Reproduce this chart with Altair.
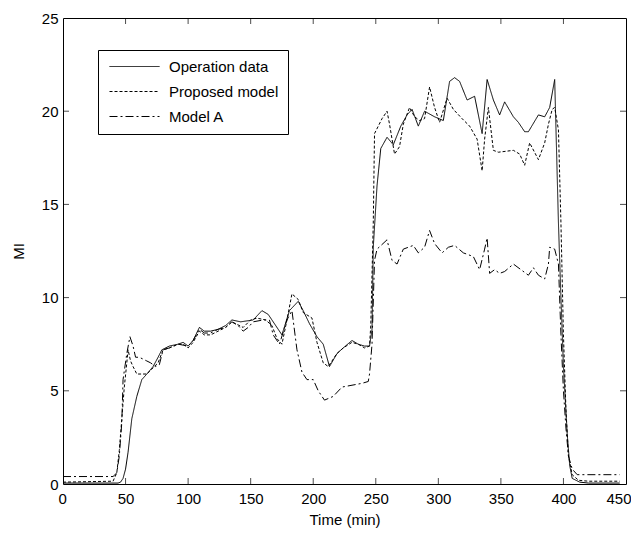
import altair as alt
import pandas as pd

series_names = ["Operation data", "Proposed model", "Model A"]

op_t = [0, 44, 46, 48, 50, 52, 55, 59, 63, 67, 72, 76, 79, 85, 92, 96, 100, 104, 109, 113, 118, 124,
        130, 135, 142, 152, 159, 164, 169, 175, 181, 188, 192, 197, 203, 208, 213, 219, 224, 231, 236,
        241, 245, 247, 248, 251, 254, 259, 264, 270, 275, 279, 284, 289, 297, 304, 309, 313, 317, 323,
        329, 335, 339, 344, 349, 353, 360, 364, 369, 372, 380, 385, 389, 393, 396, 398, 400, 403, 405,
        407, 413, 420, 445]
op_v = [0.05, 0.05, 0.1, 0.3, 0.8, 1.7, 3.5, 4.7, 5.6, 5.9, 6.3, 6.8, 7.2, 7.4, 7.5, 7.6, 7.4, 7.7,
        8.4, 8.2, 8.2, 8.3, 8.5, 8.8, 8.7, 8.8, 9.3, 9.1, 8.6, 8.0, 9.3, 9.8, 9.3, 8.6, 7.9, 7.5, 6.3,
        7.0, 7.3, 7.7, 7.5, 7.4, 7.4, 8.3, 12.7, 16.0, 18.0, 18.6, 18.2, 19.2, 19.8, 20.1, 19.2, 20.0,
        19.7, 19.5, 21.6, 21.8, 21.6, 20.6, 20.8, 18.8, 21.7, 20.6, 19.8, 20.5, 19.7, 19.4, 18.9, 18.9,
        19.8, 19.7, 20.2, 21.7, 14.0, 10.0, 6.3, 2.7, 1.0, 0.3, 0.1, 0.05, 0.05]

pm_t = [0, 40, 43, 45, 47, 49, 51, 52, 54, 56, 59, 63, 67, 70, 73, 76, 80, 85, 92, 96, 100, 104, 109,
        113, 118, 124, 130, 135, 144, 150, 155, 162, 167, 171, 175, 179, 183, 188, 192, 199, 203, 208,
        212, 219, 224, 231, 236, 241, 245, 246, 248, 249, 255, 259, 261, 265, 269, 272, 277, 281, 285,
        289, 293, 297, 301, 307, 312, 319, 325, 331, 335, 337, 340, 344, 348, 360, 365, 369, 373, 380,
        385, 388, 391, 393, 396, 398, 400, 402, 404, 407, 412, 420, 445]
pm_v = [0.1, 0.15, 0.6, 1.8, 3.5, 5.2, 6.5, 7.2, 6.6, 6.3, 5.9, 5.9, 5.9, 6.1, 6.3, 6.5, 7.2, 7.3, 7.5,
        7.5, 7.3, 7.6, 8.2, 8.0, 8.0, 8.2, 8.4, 8.7, 8.4, 8.8, 8.9, 8.8, 8.5, 7.8, 7.5, 8.8, 10.2, 9.9,
        9.2, 8.9, 7.6, 6.5, 6.3, 7.0, 7.3, 7.6, 7.5, 7.3, 7.4, 8.5, 14.0, 18.8, 19.6, 20.0, 19.3, 17.7,
        18.1, 19.3, 20.2, 19.7, 19.5, 19.6, 21.3, 20.2, 19.4, 20.7, 20.1, 19.6, 19.2, 18.5, 16.8, 18.5,
        20.2, 17.9, 17.8, 17.9, 17.7, 17.1, 18.3, 17.4, 18.3, 19.3, 20.1, 20.2, 19.0, 14.0, 8.0, 4.0,
        1.5, 0.5, 0.2, 0.15, 0.15]

ma_t = [0, 40, 43, 45, 47, 48, 51, 53.5, 56, 58, 61, 67, 70, 74, 77, 80, 85, 92, 100, 104, 109, 113,
        118, 124, 130, 135, 140, 144, 148, 152, 160, 165, 168, 173, 179, 183, 187, 191, 195, 200, 204,
        209, 216, 223, 231, 239, 244, 245, 247, 249, 251, 259, 263, 267, 272, 280, 284, 289, 293, 297,
        303, 308, 313, 320, 328, 333, 337, 339, 341, 345, 349, 353, 360, 366, 372, 376, 380, 385, 388,
        389, 393, 396, 398, 400, 402, 404, 407, 411, 445]
ma_v = [0.4, 0.4, 0.6, 1.5, 3.3, 5.6, 7.0, 7.9, 7.4, 6.8, 6.8, 6.6, 6.5, 6.3, 6.4, 7.2, 7.3, 7.5, 7.4,
        7.7, 8.3, 8.1, 8.1, 8.3, 8.4, 8.7, 8.5, 8.2, 8.4, 8.7, 8.8, 8.8, 8.0, 7.5, 8.8, 9.3, 7.2, 6.0,
        5.6, 5.6, 5.0, 4.5, 4.7, 5.2, 5.3, 5.4, 5.5, 5.9, 7.5, 12.0, 12.6, 13.1, 12.0, 11.8, 12.6, 12.8,
        12.4, 12.7, 13.6, 12.9, 12.4, 12.7, 12.8, 12.4, 12.2, 11.5, 12.6, 13.2, 11.3, 11.5, 11.3, 11.4,
        11.8, 11.5, 11.2, 11.6, 11.2, 11.0, 11.8, 12.7, 12.6, 11.8, 8.0, 5.0, 3.0, 1.5, 0.8, 0.5, 0.5]

x_ticks = [0, 50, 100, 150, 200, 250, 300, 350, 400, 450]
y_ticks = [0, 5, 10, 15, 20, 25]

rows = []
for name, ts, vs in zip(series_names, [op_t, pm_t, ma_t], [op_v, pm_v, ma_v]):
    for i, (t, v) in enumerate(zip(ts, vs)):
        rows.append({"series": name, "t": t, "v": v, "order": i})
df = pd.DataFrame(rows)

xscale = alt.Scale(domain=[0, 450], nice=False)
yscale = alt.Scale(domain=[0, 25], nice=False)
FONT = "Liberation Sans"

lines = alt.Chart(df).mark_line(strokeWidth=1, color="black", clip=True).encode(
    x=alt.X("t:Q", scale=xscale, title="Time (min)",
            axis=alt.Axis(values=x_ticks, ticks=False, domain=False, grid=False,
                          labelPadding=7, titlePadding=6, labelFlush=True, labelFlushOffset=5)),
    y=alt.Y("v:Q", scale=yscale, title="MI",
            axis=alt.Axis(values=y_ticks, ticks=False, domain=False, grid=False,
                          labelPadding=5, titlePadding=15)),
    strokeDash=alt.StrokeDash("series:N",
                              scale=alt.Scale(domain=series_names,
                                              range=[[1, 0], [3, 2], [8, 3, 2, 3]]),
                              legend=alt.Legend(title=None, orient="none", legendX=35, legendY=32,
                                                strokeColor="black", fillColor="white", padding=9,
                                                labelFontSize=15, labelFont=FONT, labelColor="black",
                                                symbolType="M-1,0H9", symbolSize=100,
                                                symbolStrokeWidth=1, symbolStrokeColor="black",
                                                labelOffset=47, rowPadding=9)),
    detail="series:N",
    order="order:Q",
)

xt = pd.DataFrame({"tick": x_ticks[1:-1]})
yt = pd.DataFrame({"tick": y_ticks[1:-1]})

bottom_ticks = alt.Chart(xt).mark_tick(orient="vertical", size=6, thickness=1, color="black", yOffset=-3).encode(
    x=alt.X("tick:Q", scale=xscale), y=alt.datum(0, scale=yscale))
top_ticks = alt.Chart(xt).mark_tick(orient="vertical", size=6, thickness=1, color="black", yOffset=3).encode(
    x=alt.X("tick:Q", scale=xscale), y=alt.datum(25, scale=yscale))
left_ticks = alt.Chart(yt).mark_tick(orient="horizontal", size=6, thickness=1, color="black", xOffset=3).encode(
    y=alt.Y("tick:Q", scale=yscale), x=alt.datum(0, scale=xscale))
right_ticks = alt.Chart(yt).mark_tick(orient="horizontal", size=6, thickness=1, color="black", xOffset=-3).encode(
    y=alt.Y("tick:Q", scale=yscale), x=alt.datum(450, scale=xscale))

chart = alt.layer(lines, bottom_ticks, top_ticks, left_ticks, right_ticks).properties(
    width=563, height=466,
    autosize=alt.AutoSizeParams(type="none"),
    padding={"left": 55, "top": 10, "right": 5, "bottom": 48},
).configure_view(stroke="black", strokeWidth=1).configure_axis(
    labelFont=FONT, labelFontSize=15, labelColor="black",
    titleFont=FONT, titleFontSize=15, titleColor="black", titleFontWeight="normal",
)

chart.save("out.html", embed_options={"renderer": "svg", "actions": False})
